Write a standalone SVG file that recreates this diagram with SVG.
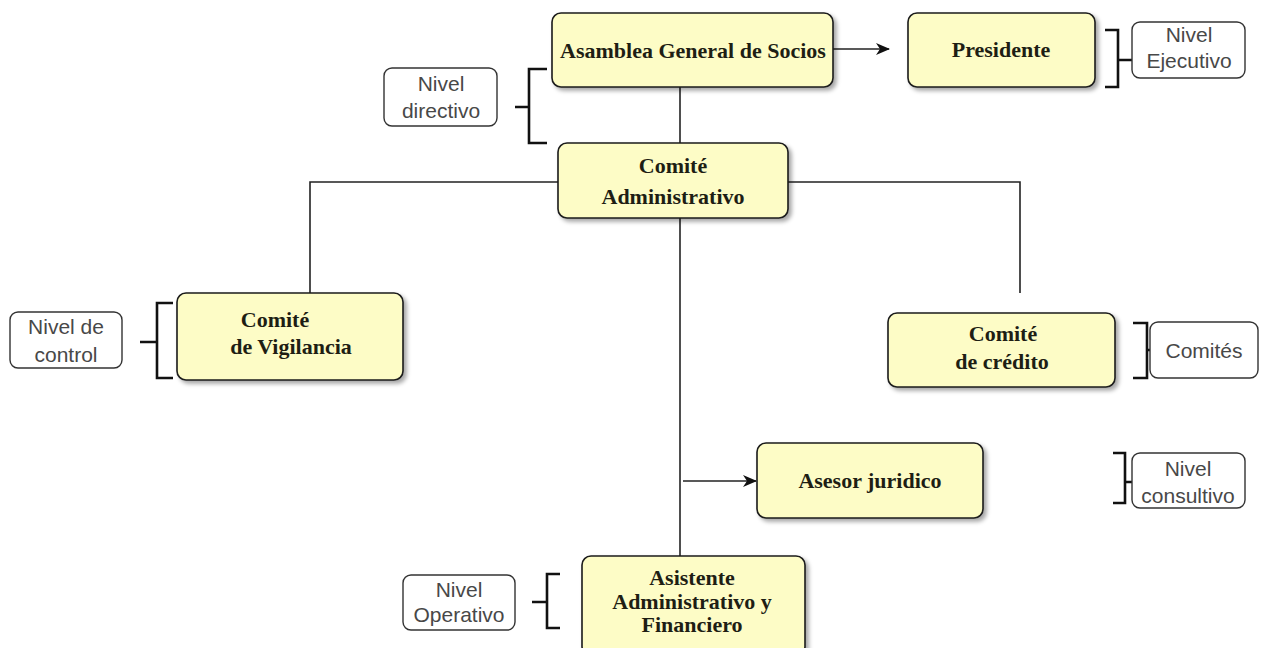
<svg xmlns="http://www.w3.org/2000/svg" width="1262" height="648" viewBox="0 0 1262 648">
  <defs>
    <filter id="shadow" x="-10%" y="-10%" width="120%" height="130%">
      <feDropShadow dx="3" dy="3" stdDeviation="2" flood-color="#000" flood-opacity="0.35"/>
    </filter>
    <marker id="arrow" viewBox="0 0 14 12" refX="13" refY="6" markerWidth="14" markerHeight="12" markerUnits="userSpaceOnUse" orient="auto">
      <path d="M0,0 L14,6 L0,12 L4,6 Z" fill="#111"/>
    </marker>
    <style>
      .node rect { fill: #fdfcc6; stroke: #1a1a1a; stroke-width: 1.6; filter: url(#shadow); }
      .node text { font-family: "Liberation Serif", "Times New Roman", serif; font-weight: bold; font-size: 22px; fill: #1e1e14; text-anchor: middle; }
      .level rect { fill: #fff; stroke: #333; stroke-width: 1.4; }
      .level text { font-family: "Liberation Sans", Arial, sans-serif; font-size: 21px; fill: #484848; text-anchor: middle; }
      .bracket { fill: none; stroke: #111; stroke-width: 2.6; }
      .edge { fill: none; stroke: #222; stroke-width: 1.6; }
    </style>
  </defs>
  <rect width="1262" height="648" fill="#fff"/>

  <!-- connectors -->
  <g id="connectors">
    <path class="edge" d="M680,87 V144"/>
    <path class="edge" d="M558,182 H310 V293"/>
    <path class="edge" d="M788,182 H1020 V293"/>
    <path class="edge" d="M680,218 V556"/>
    <path class="edge" d="M833,49 H889" marker-end="url(#arrow)"/>
    <path class="edge" d="M683,481 H756" marker-end="url(#arrow)"/>
  </g>

  <!-- organisation units -->
  <g id="asamblea" class="node">
    <rect x="552" y="13" width="281" height="74" rx="9"/>
    <text x="693" y="58">Asamblea General de Socios</text>
  </g>
  <g id="presidente" class="node">
    <rect x="908" y="13" width="187" height="74" rx="9"/>
    <text x="1001" y="57">Presidente</text>
  </g>
  <g id="comite-administrativo" class="node">
    <rect x="558" y="143" width="230" height="75" rx="9"/>
    <text x="673" y="173">Comité</text>
    <text x="673" y="204">Administrativo</text>
  </g>
  <g id="comite-vigilancia" class="node">
    <rect x="177" y="293" width="226" height="87" rx="9"/>
    <text x="275" y="327">Comité</text>
    <text x="291" y="354">de Vigilancia</text>
  </g>
  <g id="comite-credito" class="node">
    <rect x="888" y="313" width="227" height="74" rx="9"/>
    <text x="1003" y="341">Comité</text>
    <text x="1002" y="369">de crédito</text>
  </g>
  <g id="asesor-juridico" class="node">
    <rect x="757" y="443" width="226" height="75" rx="9"/>
    <text x="870" y="488">Asesor juridico</text>
  </g>
  <g id="asistente" class="node">
    <rect x="582" y="556" width="223" height="100" rx="9"/>
    <text x="692" y="585">Asistente</text>
    <text x="692" y="609">Administrativo y</text>
    <text x="692" y="632">Financiero</text>
  </g>

  <!-- level labels with brackets -->
  <g id="nivel-directivo" class="level">
    <path class="bracket" d="M547,69 H529 V143 H547 M515,107 H529"/>
    <rect x="384" y="68" width="113" height="58" rx="8"/>
    <text x="441" y="91">Nivel</text>
    <text x="441" y="118">directivo</text>
  </g>
  <g id="nivel-ejecutivo" class="level">
    <path class="bracket" d="M1105,30 H1118 V87 H1105 M1118,60 H1132"/>
    <rect x="1132" y="22" width="113" height="56" rx="8"/>
    <text x="1189" y="42">Nivel</text>
    <text x="1189" y="68">Ejecutivo</text>
  </g>
  <g id="nivel-control" class="level">
    <path class="bracket" d="M173,303 H157 V378 H173 M140,342 H157"/>
    <rect x="10" y="312" width="112" height="56" rx="8"/>
    <text x="66" y="334">Nivel de</text>
    <text x="66" y="362">control</text>
  </g>
  <g id="comites" class="level">
    <path class="bracket" d="M1133,323 H1147 V378 H1133 M1147,350 H1150"/>
    <rect x="1150" y="322" width="108" height="56" rx="8"/>
    <text x="1204" y="358">Comités</text>
  </g>
  <g id="nivel-consultivo" class="level">
    <path class="bracket" d="M1113,453 H1125 V503 H1113 M1125,482 H1132"/>
    <rect x="1132" y="453" width="113" height="55" rx="8"/>
    <text x="1188" y="476">Nivel</text>
    <text x="1188" y="503">consultivo</text>
  </g>
  <g id="nivel-operativo" class="level">
    <path class="bracket" d="M560,574 H547 V628 H560 M532,602 H547"/>
    <rect x="403" y="575" width="112" height="55" rx="8"/>
    <text x="459" y="597">Nivel</text>
    <text x="459" y="622">Operativo</text>
  </g>
</svg>
